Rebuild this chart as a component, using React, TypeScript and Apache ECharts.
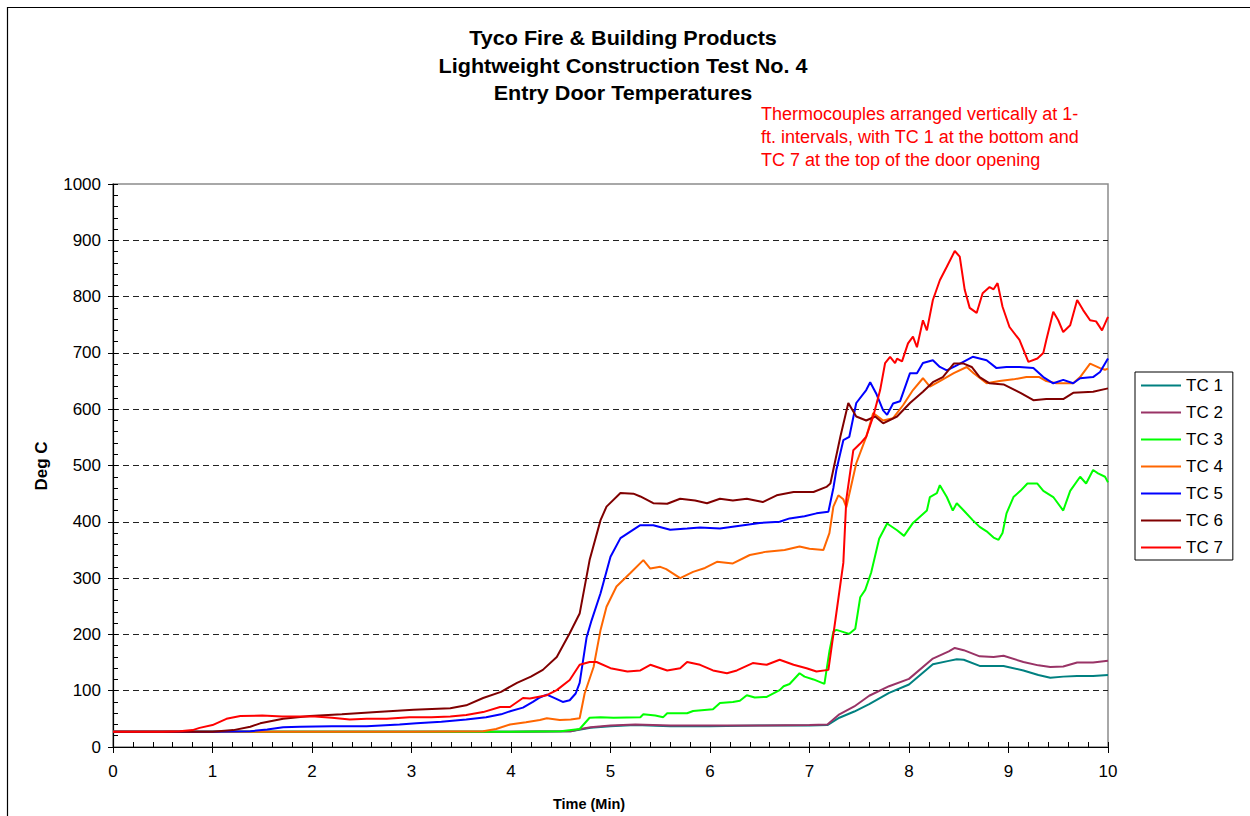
import React, { useEffect, useRef } from "react";
import * as echarts from "echarts";

const seriesNames = ["TC 1", "TC 2", "TC 3", "TC 4", "TC 5", "TC 6", "TC 7"];
const seriesColors = ["#008080", "#993366", "#00FF00", "#FF6600", "#0000FF", "#800000", "#FF0000"];

const tc1 = [[0,27],[1,27],[2,27],[3,27],[4,27],[4.6,28],[4.7,31],[4.8,34],[5.0,37],[5.25,39],[5.6,37],[6.0,37],[6.5,38],[7.0,38],[7.18,39],[7.3,52],[7.45,63],[7.6,76],[7.8,96],[8.0,111],[8.24,147],[8.4,153],[8.48,156],[8.55,155],[8.71,144],[8.95,144],[9.15,136],[9.3,128],[9.42,123],[9.55,125],[9.69,126],[9.85,126],[10,128]];
const tc2 = [[0,27],[1,27],[2,27],[3,27],[4,27],[4.6,28],[4.7,32],[4.8,35],[5.0,38],[5.25,40],[5.6,38],[6.0,38],[6.5,38],[7.0,39],[7.18,40],[7.3,58],[7.45,72],[7.6,91],[7.8,108],[8.0,121],[8.24,157],[8.4,170],[8.46,176],[8.55,172],[8.71,161],[8.85,160],[8.95,162],[9.15,151],[9.3,145],[9.42,142],[9.55,143],[9.69,150],[9.85,150],[10,153]];
const tc3 = [[0,27],[1,27],[2,27],[3,27],[4,27],[4.5,28],[4.69,32],[4.79,52],[4.9,53],[5.03,52],[5.3,53],[5.33,58],[5.45,56],[5.53,53],[5.57,60],[5.77,60],[5.83,64],[6.03,67],[6.1,78],[6.23,80],[6.3,82],[6.37,92],[6.45,88],[6.57,89],[6.7,101],[6.74,108],[6.8,112],[6.9,131],[6.95,125],[7.04,120],[7.15,112],[7.2,170],[7.24,205],[7.27,208],[7.4,201],[7.46,210],[7.51,266],[7.56,279],[7.62,310],[7.7,370],[7.78,397],[7.88,385],[7.95,375],[8.04,398],[8.11,409],[8.18,420],[8.21,444],[8.28,451],[8.31,465],[8.38,444],[8.44,420],[8.48,433],[8.55,420],[8.64,403],[8.71,391],[8.78,383],[8.85,372],[8.9,368],[8.94,380],[8.98,415],[9.05,444],[9.12,455],[9.19,468],[9.29,468],[9.35,455],[9.45,444],[9.55,420],[9.62,455],[9.72,480],[9.78,468],[9.85,492],[9.9,486],[9.97,480],[10,470]];
const tc4 = [[0,27],[1,27],[2,27],[3,27],[3.72,28],[3.85,32],[3.99,40],[4.15,44],[4.29,48],[4.36,51],[4.49,48],[4.6,49],[4.69,51],[4.74,95],[4.83,142],[4.9,208],[4.96,249],[5.06,285],[5.2,309],[5.33,332],[5.4,317],[5.5,320],[5.56,316],[5.7,300],[5.83,311],[5.95,318],[6.07,329],[6.23,326],[6.4,341],[6.57,347],[6.75,350],[6.9,356],[7.0,352],[7.14,350],[7.2,380],[7.24,427],[7.29,447],[7.34,440],[7.37,426],[7.47,504],[7.57,551],[7.64,593],[7.74,580],[7.84,584],[7.94,607],[8.04,634],[8.14,655],[8.21,640],[8.31,650],[8.45,664],[8.58,675],[8.65,664],[8.78,646],[8.91,650],[9.05,653],[9.18,657],[9.31,657],[9.38,650],[9.48,646],[9.65,646],[9.72,657],[9.82,681],[9.92,673],[9.97,670],[10,672]];
const tc5 = [[0,27],[1,27],[1.38,28],[1.55,31],[1.71,35],[1.88,36],[2.2,37],[2.55,37],[2.88,40],[3.05,42],[3.3,45],[3.55,49],[3.75,53],[3.9,58],[4.0,64],[4.12,70],[4.22,80],[4.29,88],[4.36,93],[4.45,86],[4.52,80],[4.59,83],[4.65,95],[4.69,114],[4.76,195],[4.81,225],[4.9,273],[5.0,338],[5.1,371],[5.23,386],[5.3,394],[5.43,394],[5.6,386],[5.77,388],[5.9,390],[6.1,388],[6.3,393],[6.5,398],[6.7,400],[6.8,406],[6.95,410],[7.07,415],[7.19,418],[7.24,460],[7.27,492],[7.34,545],[7.4,551],[7.47,611],[7.57,634],[7.61,648],[7.67,628],[7.74,598],[7.78,590],[7.84,610],[7.91,614],[8.01,664],[8.08,664],[8.14,682],[8.24,687],[8.31,675],[8.38,669],[8.48,678],[8.64,693],[8.78,687],[8.88,673],[8.98,675],[9.11,675],[9.25,673],[9.35,657],[9.45,646],[9.55,652],[9.65,646],[9.72,655],[9.85,657],[9.92,666],[10,690]];
const tc6 = [[0,27],[1.0,27],[1.21,30],[1.38,36],[1.48,42],[1.71,50],[1.98,55],[2.3,58],[2.65,62],[3.02,66],[3.39,69],[3.55,74],[3.72,87],[3.9,98],[4.06,114],[4.2,125],[4.32,137],[4.46,160],[4.59,202],[4.69,237],[4.79,332],[4.9,403],[4.96,427],[5.1,451],[5.23,450],[5.3,445],[5.43,433],[5.57,432],[5.7,441],[5.85,438],[5.97,433],[6.1,441],[6.23,438],[6.37,441],[6.53,435],[6.67,447],[6.84,453],[7.04,453],[7.17,462],[7.21,468],[7.31,551],[7.39,611],[7.47,587],[7.57,580],[7.66,587],[7.74,575],[7.88,587],[8.01,611],[8.14,631],[8.24,648],[8.34,657],[8.45,681],[8.55,681],[8.63,675],[8.71,657],[8.81,646],[8.95,644],[9.12,629],[9.25,616],[9.38,618],[9.55,618],[9.65,629],[9.85,631],[10,637]];
const tc7 = [[0,27],[0.5,27],[0.67,28],[0.8,30],[0.87,34],[1.0,39],[1.14,50],[1.28,55],[1.5,56],[1.7,54],[1.88,54],[2.03,54],[2.2,52],[2.38,49],[2.55,50],[2.75,50],[2.98,53],[3.2,53],[3.39,54],[3.55,57],[3.72,62],[3.89,71],[3.99,71],[4.12,87],[4.19,86],[4.36,92],[4.46,101],[4.59,119],[4.69,146],[4.79,151],[4.86,151],[5.0,140],[5.17,134],[5.3,136],[5.4,146],[5.57,136],[5.7,140],[5.77,151],[5.9,146],[6.03,136],[6.17,131],[6.27,136],[6.43,149],[6.57,146],[6.7,155],[6.84,146],[6.97,140],[7.07,134],[7.19,137],[7.27,238],[7.34,327],[7.37,440],[7.44,527],[7.51,539],[7.57,551],[7.64,587],[7.71,634],[7.76,682],[7.81,693],[7.86,682],[7.88,690],[7.93,685],[7.99,717],[8.04,729],[8.08,710],[8.14,758],[8.18,740],[8.24,794],[8.31,829],[8.38,853],[8.46,881],[8.51,871],[8.56,812],[8.61,780],[8.68,771],[8.74,806],[8.81,817],[8.85,813],[8.89,824],[8.94,782],[9.01,746],[9.11,723],[9.2,684],[9.29,690],[9.35,700],[9.38,723],[9.45,773],[9.5,758],[9.55,737],[9.62,749],[9.69,794],[9.75,776],[9.82,758],[9.88,756],[9.94,740],[10,764]];

const allData = [tc1, tc2, tc3, tc4, tc5, tc6, tc7];

const titleLines = ["Tyco Fire & Building Products", "Lightweight Construction Test No. 4", "Entry Door Temperatures"];
const noteLines = ["Thermocouples arranged vertically at 1-", "ft. intervals, with TC 1 at the bottom and", "TC 7 at the top of the door opening"];
const xName = "Time (Min)";
const yName = "Deg C";

const FONT = "'Liberation Sans', Arial, Helvetica, sans-serif";

export default function App() {
  const ref = useRef<HTMLDivElement>(null);
  useEffect(() => {
    if (!ref.current) return;
    const chart = echarts.init(ref.current, null, { renderer: "svg" });
    const gridL = 113, gridT = 184, gridW = 995, gridH = 563;
    const xBase = {
      type: "value", min: 0, max: 10, interval: 1, position: "bottom", offset: 0,
    };
    const yBase = {
      type: "value", min: 0, max: 1000, interval: 100, position: "left", offset: 0,
    };
    const option: any = {
      animation: false,
      backgroundColor: "#ffffff",
      textStyle: { fontFamily: FONT },
      grid: { left: gridL, top: gridT, width: gridW, height: gridH, show: true, borderColor: "#8c8c8c", borderWidth: 1.5, containLabel: false },
      xAxis: [
        {
          ...xBase,
          axisLine: { show: true, lineStyle: { color: "#000", width: 1.2 } },
          axisTick: { show: true, inside: true, length: 5, lineStyle: { color: "#000" } },
          minorTick: { show: true, splitNumber: 5, length: 5, lineStyle: { color: "#000" } },
          axisLabel: { show: true, color: "#000", fontSize: 17, margin: 16, fontFamily: FONT },
          splitLine: { show: false },
        },
        {
          ...xBase,
          axisLine: { show: false },
          axisTick: { show: true, inside: false, length: 6, lineStyle: { color: "#000" } },
          axisLabel: { show: false },
          splitLine: { show: false },
        },
      ],
      yAxis: [
        {
          ...yBase,
          axisLine: { show: true, lineStyle: { color: "#000", width: 1.2 } },
          axisTick: { show: true, inside: true, length: 5, lineStyle: { color: "#000" } },
          minorTick: { show: true, splitNumber: 5, length: 5, lineStyle: { color: "#000" } },
          axisLabel: { show: true, color: "#000", fontSize: 17, margin: 12, fontFamily: FONT, formatter: (v: number) => String(v) },
          splitLine: { show: true, showMinLine: false, showMaxLine: false, lineStyle: { color: "#222", width: 1, type: [6, 4] } },
        },
        {
          ...yBase,
          axisLine: { show: false },
          axisTick: { show: true, inside: false, length: 5, lineStyle: { color: "#000" } },
          axisLabel: { show: false },
          splitLine: { show: false },
        },
      ],
      legend: {
        orient: "vertical",
        left: 1135,
        top: 372,
        icon: "rect",
        itemWidth: 40,
        itemHeight: 2,
        itemGap: 10,
        padding: [5, 10, 4, 6],
        borderColor: "#000",
        borderWidth: 1,
        backgroundColor: "#fff",
        data: seriesNames,
        textStyle: { fontSize: 17, color: "#000", fontFamily: FONT, lineHeight: 17 },
      },
      series: seriesNames.map((name, i) => ({
        name,
        type: "line",
        xAxisIndex: 0,
        yAxisIndex: 0,
        data: allData[i],
        showSymbol: false,
        symbol: "none",
        color: seriesColors[i],
        itemStyle: { color: seriesColors[i] },
        lineStyle: { color: seriesColors[i], width: 2 },
        z: 2 + i,
      })),
      graphic: [
        { type: "rect", shape: { x: 7.5, y: 7.5, width: 1300, height: 900 }, style: { fill: "none", stroke: "#000", lineWidth: 1.2 }, silent: true },
        ...titleLines.map((t, i) => ({
          type: "text", x: 623, y: 38 + i * 27.5, scaleX: 1.08,
          style: { text: t, fill: "#000", font: `bold 20px ${FONT}`, align: "center", verticalAlign: "middle" },
        })),
        ...noteLines.map((t, i) => ({
          type: "text", x: 761, y: 114 + i * 22.8,
          style: { text: t, fill: "#FF0000", font: `18px ${FONT}`, align: "left", verticalAlign: "middle" },
        })),
        {
          type: "text", x: 589, y: 804,
          style: { text: xName, fill: "#000", font: `bold 14.5px ${FONT}`, align: "center", verticalAlign: "middle" },
        },
        {
          type: "text", x: 41, y: 466, rotation: Math.PI / 2,
          style: { text: yName, fill: "#000", font: `bold 17px ${FONT}`, align: "center", verticalAlign: "middle" },
        },
      ],
    };
    chart.setOption(option);
    return () => chart.dispose();
  }, []);
  return <div ref={ref} style={{ position: "absolute", left: 0, top: 0, width: 1250, height: 816 }} />;
}
